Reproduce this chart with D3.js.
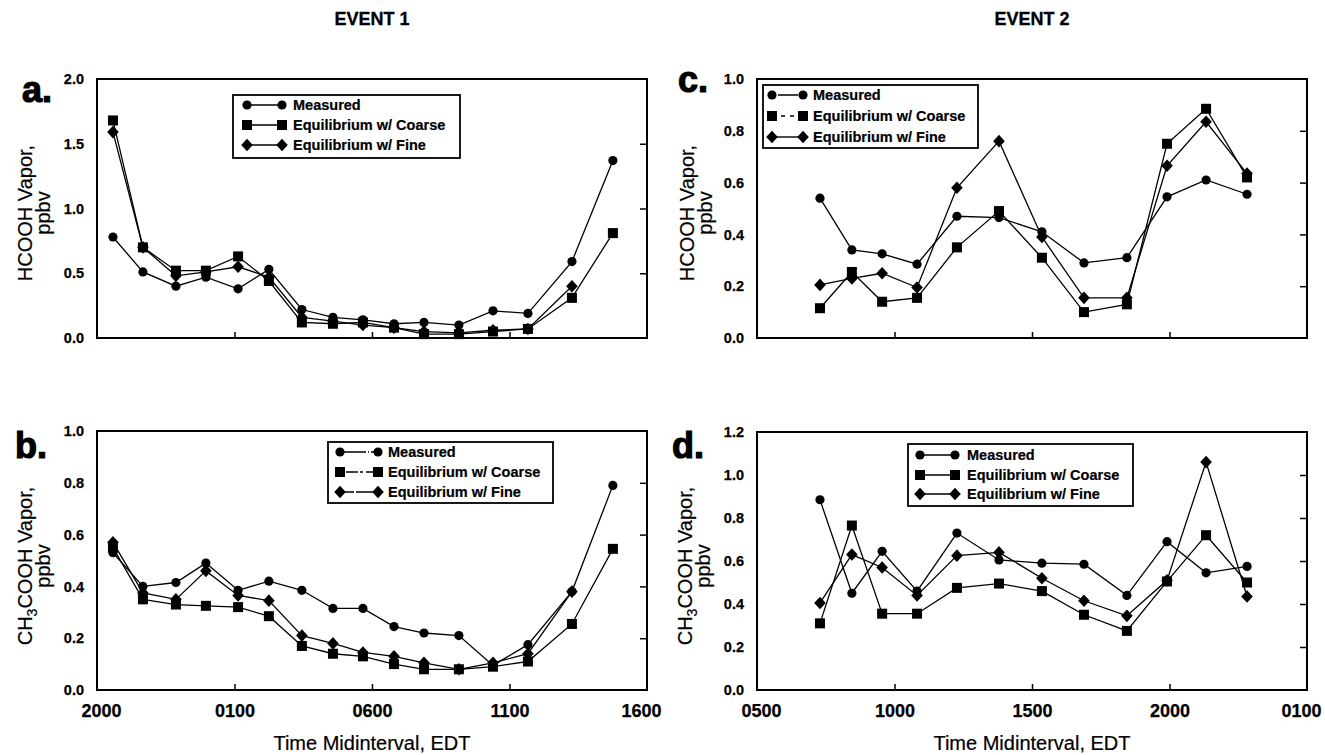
<!DOCTYPE html>
<html>
<head>
<meta charset="utf-8">
<script src="https://cdn.jsdelivr.net/npm/d3@7"></script>
<style>
  html, body { margin: 0; padding: 0; background: #fff; }
  svg { display: block; }
  text { font-family: "Liberation Sans", Arial, Helvetica, sans-serif; fill: #000; }
</style>
</head>
<body>
<svg id="chart" width="1325" height="755"></svg>
<script>
// ---------------- DATA ----------------
const seriesNames = ["Measured", "Equilibrium w/ Coarse", "Equilibrium w/ Fine"];

// Event 1: hours since midnight of day 1 (20 = 2000, 25 = 0100 next day ...)
const event1Hours = [20.58, 21.67, 22.87, 23.96, 25.13, 26.25, 27.45, 28.58, 29.67, 30.80, 31.89, 33.16, 34.40, 35.67, 37.27, 38.76];
const event1TickHours = [20, 25, 30, 35, 40];
const event1TickLabels = ["2000", "0100", "0600", "1100", "1600"];

// Event 2
const event2Hours = [7.29, 8.45, 9.55, 10.82, 12.27, 13.80, 15.36, 16.89, 18.45, 19.91, 21.33, 22.82];
const event2TickHours = [5, 10, 15, 20, 25];
const event2TickLabels = ["0500", "1000", "1500", "2000", "0100"];

// Panel a: HCOOH, event 1
const aMeasured = [0.78, 0.51, 0.40, 0.47, 0.38, 0.53, 0.22, 0.16, 0.14, 0.11, 0.12, 0.10, 0.21, 0.19, 0.59, 1.37];
const aCoarse   = [1.68, 0.70, 0.52, 0.52, 0.63, 0.44, 0.12, 0.11, 0.12, 0.08, 0.03, 0.03, 0.05, 0.07, 0.31, 0.81];
const aFine     = [1.59, 0.70, 0.48, 0.51, 0.55, 0.47, 0.16, 0.13, 0.10, 0.08, 0.05, 0.04, 0.06, 0.07, 0.40, null];
const aYTicks = [0, 0.5, 1.0, 1.5, 2.0];

// Panel b: CH3COOH, event 1
const bMeasured = [0.53, 0.40, 0.415, 0.49, 0.385, 0.42, 0.385, 0.315, 0.315, 0.245, 0.22, 0.21, 0.095, 0.175, 0.38, 0.79];
const bCoarse   = [0.55, 0.35, 0.33, 0.325, 0.32, 0.285, 0.17, 0.14, 0.13, 0.10, 0.08, 0.08, 0.09, 0.11, 0.255, 0.545];
const bFine     = [0.57, 0.375, 0.35, 0.46, 0.365, 0.345, 0.21, 0.18, 0.145, 0.13, 0.105, 0.08, 0.105, 0.14, 0.38, null];
const bYTicks = [0, 0.2, 0.4, 0.6, 0.8, 1.0];

// Panel c: HCOOH, event 2
const cMeasured = [0.54, 0.34, 0.325, 0.285, 0.47, 0.465, 0.41, 0.29, 0.31, 0.545, 0.61, 0.555];
const cCoarse   = [0.115, 0.255, 0.14, 0.155, 0.35, 0.49, 0.31, 0.10, 0.13, 0.75, 0.885, 0.62];
const cFine     = [0.205, 0.23, 0.25, 0.195, 0.58, 0.76, 0.39, 0.155, 0.155, 0.665, 0.835, 0.635];
const cYTicks = [0, 0.2, 0.4, 0.6, 0.8, 1.0];

// Panel d: CH3COOH, event 2
const dMeasured = [0.885, 0.45, 0.645, 0.46, 0.73, 0.605, 0.59, 0.585, 0.44, 0.69, 0.545, 0.575];
const dCoarse   = [0.31, 0.765, 0.355, 0.355, 0.475, 0.495, 0.46, 0.35, 0.275, 0.505, 0.72, 0.50];
const dFine     = [0.405, 0.63, 0.57, 0.44, 0.625, 0.64, 0.52, 0.415, 0.345, 0.51, 1.06, 0.435];
const dYTicks = [0, 0.2, 0.4, 0.6, 0.8, 1.0, 1.2];

// ---------------- LAYOUT ----------------
const svg = d3.select("#chart");
const shapes = ["circle", "square", "diamond"];

const panels = [
  { letter: "a.", letterPos: [22, 102], x0: 97, x1: 647, y0: 79, y1: 338, ydom: [0, 2], yticks: aYTicks,
    hours: event1Hours, xtickH: event1TickHours, xtickL: event1TickLabels, showX: false,
    data: [aMeasured, aCoarse, aFine], chem: "HCOOH", titleX: [32, 50], titleY: 213,
    legend: { x: 233, y: 95, w: 227, h: 63, rows: [105, 125, 145], s0: 247, s1: 282, tx: 293,
              dash: [null, null, null] } },
  { letter: "b.", letterPos: [15, 458], x0: 97, x1: 647, y0: 431, y1: 690, ydom: [0, 1], yticks: bYTicks,
    hours: event1Hours, xtickH: event1TickHours, xtickL: event1TickLabels, showX: true,
    data: [bMeasured, bCoarse, bFine], chem: "CH3", titleX: [32, 50], titleY: 566,
    legend: { x: 328, y: 442, w: 225, h: 61, rows: [452, 472, 492], s0: 340, s1: 378, tx: 388,
              dash: ["26,2,1,2", "3,3,12,2", "14,2,20"] } },
  { letter: "c.", letterPos: [678, 92], x0: 757, x1: 1307, y0: 79, y1: 338, ydom: [0, 1], yticks: cYTicks,
    hours: event2Hours, xtickH: event2TickHours, xtickL: event2TickLabels, showX: false,
    data: [cMeasured, cCoarse, cFine], chem: "HCOOH", titleX: [694, 712], titleY: 213,
    legend: { x: 763, y: 85, w: 215, h: 63, rows: [95, 116, 137], s0: 772, s1: 803, tx: 813,
              dash: ["4,2,20", "4,5", null] } },
  { letter: "d.", letterPos: [672, 458], x0: 757, x1: 1307, y0: 432, y1: 690, ydom: [0, 1.2], yticks: dYTicks,
    hours: event2Hours, xtickH: event2TickHours, xtickL: event2TickLabels, showX: true,
    data: [dMeasured, dCoarse, dFine], chem: "CH3", titleX: [692, 710], titleY: 566,
    legend: { x: 908, y: 444, w: 225, h: 62, rows: [455, 475, 494], s0: 920, s1: 955, tx: 967,
              dash: [null, null, null] } }
];

function drawMarker(g, shape, x, y) {
  if (shape === "circle") {
    g.append("circle").attr("cx", x).attr("cy", y).attr("r", 4.6).attr("fill", "#000");
  } else if (shape === "square") {
    g.append("rect").attr("x", x - 5).attr("y", y - 5).attr("width", 10).attr("height", 10).attr("fill", "#000");
  } else {
    g.append("path").attr("d", `M${x},${y - 6.3}L${x + 5.8},${y}L${x},${y + 6.3}L${x - 5.8},${y}Z`).attr("fill", "#000");
  }
}

// Event headers
svg.append("text").attr("x", 372).attr("y", 25).attr("text-anchor", "middle")
  .style("font-size", "18px").style("font-weight", "bold").style("stroke", "#000").style("stroke-width", 0.3)
  .text("EVENT 1");
svg.append("text").attr("x", 1032).attr("y", 25).attr("text-anchor", "middle")
  .style("font-size", "18px").style("font-weight", "bold").style("stroke", "#000").style("stroke-width", 0.3)
  .text("EVENT 2");

panels.forEach(p => {
  const g = svg.append("g");
  const x = d3.scaleLinear().domain([p.xtickH[0], p.xtickH[p.xtickH.length - 1]]).range([p.x0, p.x1]);
  const y = d3.scaleLinear().domain(p.ydom).range([p.y1, p.y0]);

  // frame
  g.append("rect").attr("x", p.x0).attr("y", p.y0).attr("width", p.x1 - p.x0).attr("height", p.y1 - p.y0)
    .attr("fill", "none").attr("stroke", "#000").attr("stroke-width", 2);

  // left axis labels
  const yAxisL = d3.axisLeft(y).tickValues(p.yticks).tickFormat(d3.format(".1f")).tickSize(0).tickPadding(13);
  const gl = g.append("g").attr("transform", `translate(${p.x0},0)`).call(yAxisL);
  gl.select(".domain").remove();
  gl.selectAll("text").style("font-size", "14.5px").style("font-weight", "bold")
    .style("font-family", '"Liberation Sans", Arial, sans-serif')
    .style("stroke", "#000").style("stroke-width", 0.25);

  // right inward ticks
  const inner = p.yticks.slice(1, -1);
  const gr = g.append("g").attr("transform", `translate(${p.x1},0)`)
    .call(d3.axisRight(y).tickValues(inner).tickSize(-7).tickFormat(""));
  gr.select(".domain").remove();
  gr.selectAll("line").attr("stroke-width", 1.5);

  // bottom inward ticks
  const xin = p.xtickH.slice(1, -1);
  const gb = g.append("g").attr("transform", `translate(0,${p.y1})`)
    .call(d3.axisBottom(x).tickValues(xin).tickSize(-6).tickFormat(""));
  gb.select(".domain").remove();
  gb.selectAll("line").attr("stroke-width", 1.5);

  if (p.showX) {
    const labelMap = new Map(p.xtickH.map((h, i) => [h, p.xtickL[i]]));
    const gx = g.append("g").attr("transform", `translate(0,${p.y1})`)
      .call(d3.axisBottom(x).tickValues(p.xtickH).tickSize(0).tickPadding(14).tickFormat(h => labelMap.get(h)));
    gx.select(".domain").remove();
    gx.selectAll("text").style("font-size", "18px").style("font-weight", "bold")
      .style("font-family", '"Liberation Sans", Arial, sans-serif')
      .style("stroke", "#000").style("stroke-width", 0.25)
      .attr("dx", (d, i) => i === 0 ? 4 : (i === p.xtickH.length - 1 ? -6 : 0));
    g.append("text").attr("x", (p.x0 + p.x1) / 2).attr("y", 750).attr("text-anchor", "middle")
      .style("font-size", "20px").style("stroke", "#000").style("stroke-width", 0.2)
      .text("Time Midinterval, EDT");
  }

  // panel letter
  g.append("text").attr("x", p.letterPos[0]).attr("y", p.letterPos[1])
    .style("font-size", "36px").style("font-weight", "900")
    .style("stroke", "#000").style("stroke-width", 1.2).text(p.letter);

  // y title
  const t1 = g.append("text")
    .attr("transform", `translate(${p.titleX[0]},${p.titleY}) rotate(-90)`)
    .attr("text-anchor", "middle").style("font-size", "20px")
    .style("stroke", "#000").style("stroke-width", 0.2);
  if (p.chem === "CH3") {
    t1.append("tspan").text("CH");
    t1.append("tspan").attr("dy", 5).style("font-size", "14px").text("3");
    t1.append("tspan").attr("dy", -5).text("COOH Vapor,");
  } else {
    t1.text("HCOOH Vapor,");
  }
  g.append("text").attr("transform", `translate(${p.titleX[1]},${p.titleY}) rotate(-90)`)
    .attr("text-anchor", "middle").style("font-size", "20px")
    .style("stroke", "#000").style("stroke-width", 0.2).text("ppbv");

  // series lines + markers
  const line = d3.line().defined(d => d[1] !== null).x(d => x(d[0])).y(d => y(d[1]));
  p.data.forEach((vals, si) => {
    const pts = p.hours.map((h, i) => [h, vals[i]]);
    g.append("path").datum(pts).attr("d", line).attr("fill", "none")
      .attr("stroke", "#000").attr("stroke-width", 1.3);
  });
  p.data.forEach((vals, si) => {
    p.hours.forEach((h, i) => {
      if (vals[i] !== null) drawMarker(g, shapes[si], x(h), y(vals[i]));
    });
  });

  // legend
  const L = p.legend;
  g.append("rect").attr("x", L.x).attr("y", L.y).attr("width", L.w).attr("height", L.h)
    .attr("fill", "#fff").attr("stroke", "#000").attr("stroke-width", 1.8);
  seriesNames.forEach((name, si) => {
    const ry = L.rows[si];
    const ln = g.append("line").attr("x1", L.s0).attr("x2", L.s1).attr("y1", ry).attr("y2", ry)
      .attr("stroke", "#000").attr("stroke-width", 1.4);
    if (L.dash[si]) ln.attr("stroke-dasharray", L.dash[si]);
    drawMarker(g, shapes[si], L.s0, ry);
    drawMarker(g, shapes[si], L.s1, ry);
    g.append("text").attr("x", L.tx).attr("y", ry + 5)
      .style("font-size", "14.5px").style("font-weight", "bold")
      .style("stroke", "#000").style("stroke-width", 0.2).text(name);
  });
});
</script>
</body>
</html>
